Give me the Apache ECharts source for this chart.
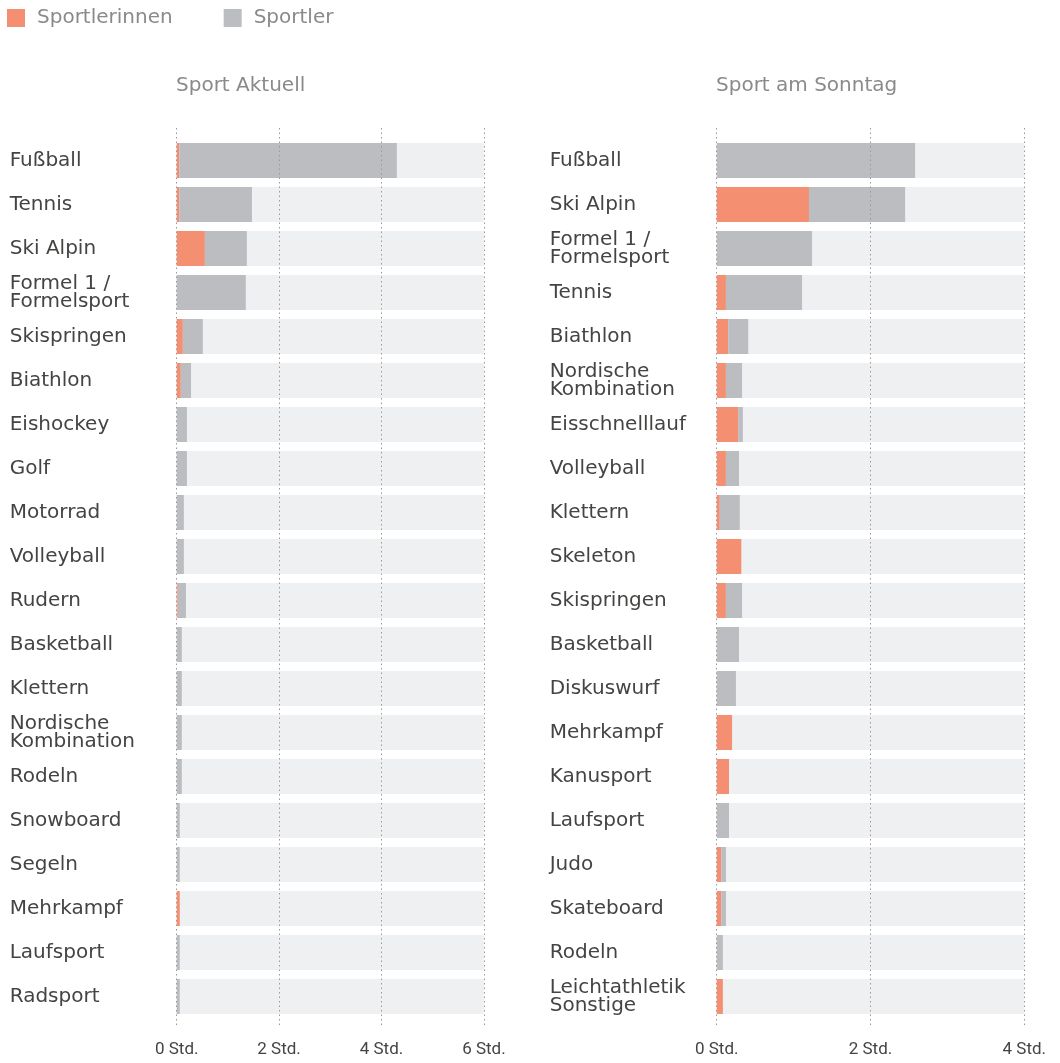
<!DOCTYPE html>
<html>
<head>
<meta charset="utf-8">
<script src="https://cdn.jsdelivr.net/npm/echarts@6/dist/echarts.min.js"></script>
<style>html,body{margin:0;padding:0;background:#fff;}#c{width:1060px;height:1063px;}</style>
</head>
<body>
<div id="c"></div>
<script>
const leftCategories = ['Fußball','Tennis','Ski Alpin','Formel 1 /\nFormelsport','Skispringen','Biathlon','Eishockey','Golf','Motorrad','Volleyball','Rudern','Basketball','Klettern','Nordische\nKombination','Rodeln','Snowboard','Segeln','Mehrkampf','Laufsport','Radsport'];
const leftWomen = [0.05,0.05,0.55,0,0.12,0.08,0,0,0,0,0.02,0,0,0,0,0,0,0.06,0,0];
const leftMen   = [4.25,1.42,0.82,1.35,0.39,0.20,0.20,0.20,0.14,0.14,0.16,0.10,0.10,0.10,0.10,0.06,0.06,0,0.06,0.06];

const rightCategories = ['Fußball','Ski Alpin','Formel 1 /\nFormelsport','Tennis','Biathlon','Nordische\nKombination','Eisschnelllauf','Volleyball','Klettern','Skeleton','Skispringen','Basketball','Diskuswurf','Mehrkampf','Kanusport','Laufsport','Judo','Skateboard','Rodeln','Leichtathletik\nSonstige'];
const rightWomen = [0,1.20,0,0.12,0.15,0.12,0.28,0.12,0.04,0.32,0.12,0,0,0.20,0.16,0,0.06,0.06,0,0.08];
const rightMen   = [2.58,1.25,1.24,0.99,0.26,0.21,0.06,0.17,0.26,0,0.21,0.29,0.25,0,0,0.16,0.06,0.06,0.08,0];

const leftTicks = [0,2,4,6];
const rightTicks = [0,2,4];
const seriesNames = ['Sportlerinnen','Sportler'];
const panelTitles = ['Sport Aktuell','Sport am Sonntag'];

const ORANGE = '#f58f72', GRAY = '#bcbdc1', BG = '#eff0f2';
const LABEL_FONT = 'DejaVu Sans';

function catAxis(idx, cats) {
  return {
    type: 'category', gridIndex: idx, data: cats, inverse: true,
    axisLine: {show: false}, axisTick: {show: false},
    axisLabel: {align: 'left', margin: 167, fontFamily: LABEL_FONT, fontSize: 20, lineHeight: 18, color: '#444442', padding: [2, 0, 0, 0]}
  };
}
function hiddenX(idx, max) {
  return {type: 'value', gridIndex: idx, min: 0, max: max, show: false, splitLine: {show: false}};
}
function overlayX(idx, max) {
  return {
    type: 'value', gridIndex: idx, min: 0, max: max, interval: 2, z: 10,
    axisLine: {show: false}, axisTick: {show: false},
    axisLabel: {fontFamily: 'Roboto', fontSize: 17, color: '#444', margin: 14, formatter: v => v + ' Std.'},
    splitLine: {show: true, lineStyle: {type: [1.5, 3], color: '#999', width: 1}}
  };
}

const option = {
  animation: false,
  backgroundColor: '#fff',
  legend: {
    left: 7, top: 8, padding: 0, itemWidth: 18, itemHeight: 18, itemGap: 51, icon: 'rect',
    data: seriesNames,
    textStyle: {fontFamily: LABEL_FONT, fontSize: 20, color: '#8a8a8a', padding: [0, 0, 0, 7]}
  },
  title: [
    {text: panelTitles[0], left: 171, top: 71, textStyle: {fontFamily: LABEL_FONT, fontSize: 20, fontWeight: 'normal', color: '#8a8a8a'}},
    {text: panelTitles[1], left: 711, top: 71, textStyle: {fontFamily: LABEL_FONT, fontSize: 20, fontWeight: 'normal', color: '#8a8a8a'}}
  ],
  grid: [
    {left: 176.7, top: 138.5, width: 307.2, height: 880},
    {left: 716.7, top: 138.5, width: 307.6, height: 880},
    {left: 176.7, top: 128, width: 307.2, height: 899},
    {left: 716.7, top: 128, width: 307.6, height: 899}
  ],
  xAxis: [hiddenX(0, 6), hiddenX(1, 4), overlayX(2, 6), overlayX(3, 4)],
  yAxis: [
    catAxis(0, leftCategories), catAxis(1, rightCategories),
    {type: 'value', gridIndex: 2, show: false}, {type: 'value', gridIndex: 3, show: false}
  ],
  series: [
    {name: seriesNames[0], type: 'bar', stack: 'l', xAxisIndex: 0, yAxisIndex: 0, data: leftWomen, barWidth: 35,
     itemStyle: {color: ORANGE}, showBackground: true, backgroundStyle: {color: BG}},
    {name: seriesNames[1], type: 'bar', stack: 'l', xAxisIndex: 0, yAxisIndex: 0, data: leftMen, barWidth: 35,
     itemStyle: {color: GRAY}},
    {name: seriesNames[0], type: 'bar', stack: 'r', xAxisIndex: 1, yAxisIndex: 1, data: rightWomen, barWidth: 35,
     itemStyle: {color: ORANGE}, showBackground: true, backgroundStyle: {color: BG}},
    {name: seriesNames[1], type: 'bar', stack: 'r', xAxisIndex: 1, yAxisIndex: 1, data: rightMen, barWidth: 35,
     itemStyle: {color: GRAY}}
  ]
};
const chart = echarts.init(document.getElementById('c'), null, {renderer: 'canvas'});
chart.setOption(option);
</script>
</body>
</html>
